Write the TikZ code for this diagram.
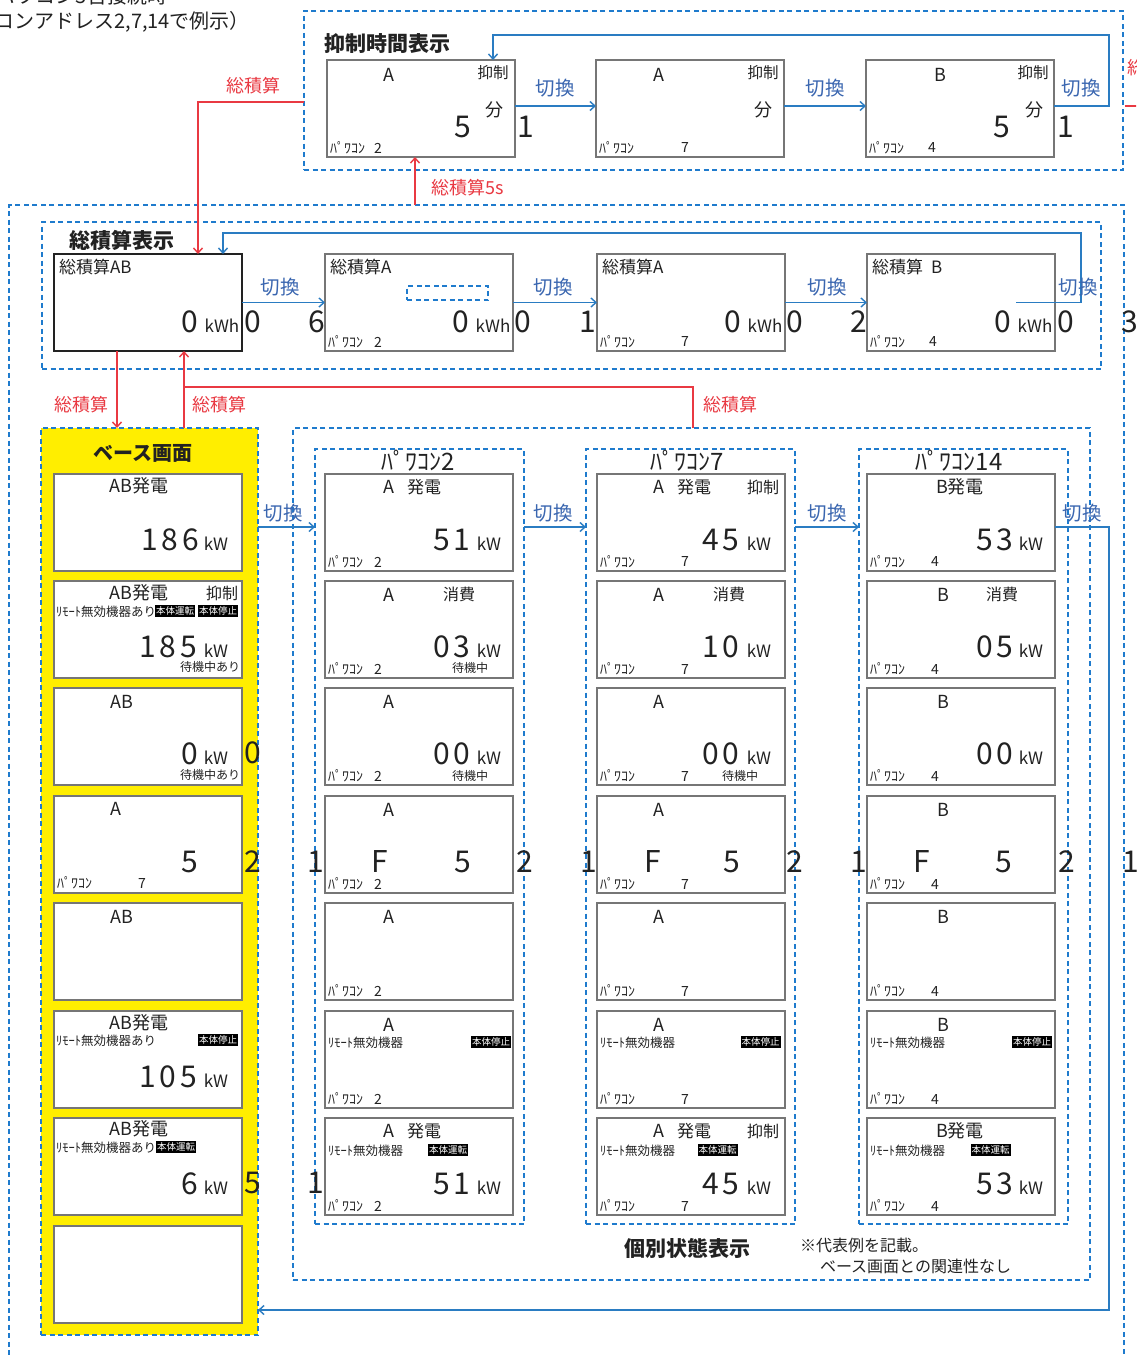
\documentclass[tikz,border=0pt]{standalone}
\usepackage{fontspec}
\setmainfont{Noto Sans CJK JP}
\usetikzlibrary{arrows.meta}
\definecolor{gb}{RGB}{31,123,205}
\definecolor{ab}{RGB}{42,124,194}
\definecolor{swc}{RGB}{58,102,176}
\definecolor{rd}{RGB}{233,57,66}
\definecolor{yl}{RGB}{255,238,0}
\definecolor{bx}{RGB}{118,118,118}
\definecolor{ink}{RGB}{34,34,34}
\newcount\nodecnt
\tikzset{
 an/.code={\global\advance\nodecnt by 1\relax\pgfkeysalso{name=tx\the\nodecnt}},
 fs/.style={font=\fontsize{#1}{#1}\selectfont},
 tx/.style={an, inner sep=0pt, outer sep=0pt, text=ink, fs=#1},
 tx/.default=17,
 big/.style={tx=30},
 kw/.style={tx=17},
 sm/.style={tx=14},
 rem/.style={tx=12.5},
 blk/.style={an, fill=black, text=white, fs=9.5, inner xsep=1pt, inner ysep=1.5pt, outer sep=0pt},
 swl/.style={an, text=swc, fs=19.5, inner sep=0pt},
 rl/.style={an, text=rd, fs=18, inner sep=0pt},
 ttl/.style={an, text=ink, font=\fontsize{21}{21}\selectfont\bfseries, inner sep=0pt},
 scr/.style={draw=bx, line width=1.6pt, fill=white, minimum width=188pt, minimum height=97pt, anchor=north west, inner sep=0pt, outer sep=0pt},
 grp/.style={draw=gb, line width=1.4pt, dash pattern=on 5pt off 3.5pt, anchor=north west, inner sep=0pt, outer sep=0pt},
 barr/.style={draw=ab, line width=1.4pt, -{Straight Barb[length=5pt,width=9pt]}},
 rarr/.style={draw=rd, line width=1.4pt, -{Straight Barb[length=5pt,width=9pt]}},
 rline/.style={draw=rd, line width=1.4pt}
}
\newcommand\bxc[4]{\node[scr] (#1) at (#2,#3) {};\begin{scope}[shift={(#2,#3)}]#4\end{scope}}
\newcommand\pw[2]{\node[sm,anchor=west] at (3,88) {ﾊﾟﾜｺﾝ};\node[sm] at (#1,88) {#2};}
\newcommand\bign[2]{\node[big,anchor=base] at (#1,76) {#2};}
\newcommand\kwl[1]{\node[kw,anchor=base] at (#1,76) {kW};}
\newcommand\dg[2]{#1\hspace{3.5pt}#2}
\begin{document}
\begin{tikzpicture}[x=1pt,y=-1pt]
\useasboundingbox (0,0) rectangle (1136,1357);
\fill[white] (0,0) rectangle (1136,1357);
\clip (0,0) rectangle (1136,1357);

% header
\node[tx=20,anchor=base east] at (167,4) {（パワコン3台接続時};
\node[tx=20,anchor=east] at (250,22) {（パワコンアドレス2,7,14で例示）};

% groups
\node[grp, minimum width=1115pt, minimum height=1300pt] (outer) at (9,205) {};
\node[grp, minimum width=819pt, minimum height=159pt] (topg) at (304,11) {};
\node[grp, minimum width=1059pt, minimum height=147pt] (totg) at (42,222) {};
\node[grp, fill=yl, minimum width=217pt, minimum height=907pt] (basey) at (41,428) {};
\node[grp, minimum width=797pt, minimum height=852pt] (indg) at (293,428) {};
\node[grp, minimum width=209pt, minimum height=775pt] (g2) at (315,449) {};
\node[grp, minimum width=209pt, minimum height=775pt] (g7) at (586,449) {};
\node[grp, minimum width=209pt, minimum height=775pt] (g14) at (859,449) {};

% titles
\node[ttl] at (387,44) {抑制時間表示};
\node[ttl] at (122,240) {総積算表示};
\node[ttl, font=\fontsize{20}{20}\selectfont\bfseries] at (143,453) {ベース画面};
\node[tx=24] at (418,461) {ﾊﾟﾜｺﾝ2};
\node[tx=24] at (687,461) {ﾊﾟﾜｺﾝ7};
\node[tx=24] at (959,461) {ﾊﾟﾜｺﾝ14};
\node[ttl] at (687,1248) {個別状態表示};
\node[tx=16,anchor=west] at (800,1245) {※代表例を記載。};
\node[tx=16,anchor=west] at (820,1266) {ベース画面との関連性なし};

% top row (抑制時間表示)
\bxc{t1}{327}{60}{\node[tx=18] at (62,15) {A};\node[tx=15.5] at (166,13) {抑制};\node[tx=18] at (167,50) {分};\node[big,anchor=base] at (136,77) {5};\pw{51}{2}}
\bxc{t2}{596}{60}{\node[tx=18] at (63,15) {A};\node[tx=15.5] at (167,13) {抑制};\node[tx=18] at (167,50) {分};\pw{89}{7}}
\bxc{t3}{866}{60}{\node[tx=18] at (74,15) {B};\node[tx=15.5] at (167,13) {抑制};\node[tx=18] at (168,50) {分};\node[big,anchor=base] at (136,77) {5};\pw{66}{4}}
\node[big,anchor=base] at (526,137) {1};
\node[big,anchor=base] at (1066,137) {1};

% totals row
\node[scr, draw=ink, line width=2.6pt] (tAB) at (54,254) {};
\node[tx,anchor=west] at (59,267) {総積算AB};
\node[big,anchor=base] at (190,332) {0};
\node[kw,anchor=base] at (222,332) {kWh};
\bxc{tA2}{325}{254}{\node[tx,anchor=west] at (5,13) {総積算A};\node[kw,anchor=base] at (168,78) {kWh};\node[big,anchor=base] at (136,78) {0};\pw{53}{2}}
\node[grp, line width=1.2pt, minimum width=81pt, minimum height=14pt] (dsh) at (407,286) {};
\bxc{tA7}{597}{254}{\node[tx,anchor=west] at (5,13) {総積算A};\node[kw,anchor=base] at (168,78) {kWh};\node[big,anchor=base] at (136,78) {0};\pw{88}{7}}
\bxc{tB}{867}{254}{\node[tx,anchor=west] at (5,13) {総積算\hspace{8pt}B};\node[kw,anchor=base] at (168,78) {kWh};\node[big,anchor=base] at (136,78) {0};\pw{66}{4}}
\node[big,anchor=base] at (253,332) {0};
\node[big,anchor=base] at (317,332) {6};
\node[big,anchor=base] at (523,332) {0};
\node[big,anchor=base] at (588,332) {1};
\node[big,anchor=base] at (795,332) {0};
\node[big,anchor=base] at (859,332) {2};
\node[big,anchor=base] at (1066,332) {0};
\node[big,anchor=base] at (1130,332) {3};

% base column
\bxc{b1}{54}{474}{\node[tx=18] at (85,12) {AB発電};\bign{116}{1\hspace{4pt}8\hspace{4pt}6}\kwl{162}}
\bxc{b2}{54}{581}{\node[tx=18] at (85,12) {AB発電};\node[tx=16] at (168,12) {抑制};\node[rem,anchor=west] at (2,31) {ﾘﾓｰﾄ無効機器あり};\node[blk] at (121,30) {本体運転};\node[blk] at (164,30) {本体停止};\bign{114}{1\hspace{4pt}8\hspace{4pt}5}\kwl{162}\node[tx=12] at (156,86) {待機中あり};}
\bxc{b3}{54}{688}{\node[tx=18] at (68,14) {AB};\bign{136}{0}\kwl{162}\node[tx=12] at (156,87) {待機中あり};}
\bxc{b4}{54}{796}{\node[tx=18] at (62,13) {A};\bign{136}{5}\node[sm,anchor=west] at (3,87) {ﾊﾟﾜｺﾝ};\node[sm] at (88,87) {7};}
\bxc{b5}{54}{903}{\node[tx=18] at (68,14) {AB};}
\bxc{b6}{54}{1011}{\node[tx=18] at (85,12) {AB発電};\node[rem,anchor=west] at (2,30) {ﾘﾓｰﾄ無効機器あり};\node[blk] at (164,29) {本体停止};\bign{114}{1\hspace{4pt}0\hspace{4pt}5}\kwl{162}}
\bxc{b7}{54}{1118}{\node[tx=18] at (85,11) {AB発電};\node[rem,anchor=west] at (2,30) {ﾘﾓｰﾄ無効機器あり};\node[blk] at (122,29) {本体運転};\bign{136}{6}\kwl{162}}
\bxc{b8}{54}{1226}{}

% pawacon 2
\bxc{p2a}{325}{474}{\node[tx=18] at (64,13) {A};\node[tx] at (99,13) {発電};\bign{127}{\dg51}\kwl{164}\pw{53}{2}}
\bxc{p2b}{325}{581}{\node[tx=18] at (64,14) {A};\node[tx=16] at (134,13) {消費};\bign{127}{\dg03}\kwl{164}\node[tx=12] at (145,87) {待機中};\pw{53}{2}}
\bxc{p2c}{325}{688}{\node[tx=18] at (64,14) {A};\bign{127}{\dg00}\kwl{164}\node[tx=12] at (145,88) {待機中};\pw{53}{2}}
\bxc{p2d}{325}{796}{\node[tx=18] at (64,14) {A};\bign{55}{F}\bign{138}{5}\pw{53}{2}}
\bxc{p2e}{325}{903}{\node[tx=18] at (64,14) {A};\pw{53}{2}}
\bxc{p2f}{325}{1011}{\node[tx=18] at (64,14) {A};\node[rem,anchor=west] at (3,32) {ﾘﾓｰﾄ無効機器};\node[blk] at (166,31) {本体停止};\pw{53}{2}}
\bxc{p2g}{325}{1118}{\node[tx=18] at (64,13) {A};\node[tx] at (99,13) {発電};\node[rem,anchor=west] at (3,33) {ﾘﾓｰﾄ無効機器};\node[blk] at (123,32) {本体運転};\bign{127}{\dg51}\kwl{164}\pw{53}{2}}

% pawacon 7
\bxc{p7a}{597}{474}{\node[tx=18] at (62,13) {A};\node[tx] at (97,13) {発電};\node[tx=16] at (166,13) {抑制};\bign{124}{\dg45}\kwl{162}\pw{88}{7}}
\bxc{p7b}{597}{581}{\node[tx=18] at (62,14) {A};\node[tx=16] at (132,13) {消費};\bign{124}{\dg10}\kwl{162}\pw{88}{7}}
\bxc{p7c}{597}{688}{\node[tx=18] at (62,14) {A};\bign{124}{\dg00}\kwl{162}\node[tx=12] at (143,88) {待機中};\pw{88}{7}}
\bxc{p7d}{597}{796}{\node[tx=18] at (62,14) {A};\bign{56}{F}\bign{135}{5}\pw{88}{7}}
\bxc{p7e}{597}{903}{\node[tx=18] at (62,14) {A};\pw{88}{7}}
\bxc{p7f}{597}{1011}{\node[tx=18] at (62,14) {A};\node[rem,anchor=west] at (3,32) {ﾘﾓｰﾄ無効機器};\node[blk] at (163.5,31) {本体停止};\pw{88}{7}}
\bxc{p7g}{597}{1118}{\node[tx=18] at (62,13) {A};\node[tx] at (97,13) {発電};\node[tx=16] at (166,13) {抑制};\node[rem,anchor=west] at (3,33) {ﾘﾓｰﾄ無効機器};\node[blk] at (120.5,32) {本体運転};\bign{124}{\dg45}\kwl{162}\pw{88}{7}}

% pawacon 14
\bxc{p14a}{867}{474}{\node[tx=18] at (93,13) {B発電};\bign{128}{\dg53}\kwl{164}\pw{68}{4}}
\bxc{p14b}{867}{581}{\node[tx=18] at (76,14) {B};\node[tx=16] at (135,13) {消費};\bign{128}{\dg05}\kwl{164}\pw{68}{4}}
\bxc{p14c}{867}{688}{\node[tx=18] at (76,14) {B};\bign{128}{\dg00}\kwl{164}\pw{68}{4}}
\bxc{p14d}{867}{796}{\node[tx=18] at (76,14) {B};\bign{55}{F}\bign{137}{5}\pw{68}{4}}
\bxc{p14e}{867}{903}{\node[tx=18] at (76,14) {B};\pw{68}{4}}
\bxc{p14f}{867}{1011}{\node[tx=18] at (76,14) {B};\node[rem,anchor=west] at (3,32) {ﾘﾓｰﾄ無効機器};\node[blk] at (165,31) {本体停止};\pw{68}{4}}
\bxc{p14g}{867}{1118}{\node[tx=18] at (93,13) {B発電};\node[rem,anchor=west] at (3,33) {ﾘﾓｰﾄ無効機器};\node[blk] at (123.5,32) {本体運転};\bign{128}{\dg53}\kwl{164}\pw{68}{4}}

% outside digits (individual)
\node[big,anchor=base] at (253,763) {0};
\node[big,anchor=base] at (253,872) {2};
\node[big,anchor=base] at (316,872) {1};
\node[big,anchor=base] at (525,872) {2};
\node[big,anchor=base] at (589,872) {1};
\node[big,anchor=base] at (795,872) {2};
\node[big,anchor=base] at (859,872) {1};
\node[big,anchor=base] at (1067,872) {2};
\node[big,anchor=base] at (1131,872) {1};
\node[big,anchor=base] at (253,1193) {5};
\node[big,anchor=base] at (316,1193) {1};

% blue connectors: top
\coordinate (ty) at (0,106);
\draw[barr] (t1.east |- ty) -- (t2.west |- ty);
\draw[barr] (t2.east |- ty) -- (t3.west |- ty);
\coordinate (tl1) at (1109,35); \coordinate (tl2) at (493,35);
\draw[barr] (t3.east |- ty) -| (tl1) -- (tl2) -- (t1.north -| tl2);
\node[swl] at (555,88) {切換};
\node[swl] at (825,88) {切換};
\node[swl] at (1081,88) {切換};

% blue connectors: totals
\draw[barr] (tAB.east) -- (tA2.west);
\draw[barr] (tA2.east) -- (tA7.west);
\draw[barr] (tA7.east) -- (tB.west);
\coordinate (lB) at (1016,302.5); \coordinate (tl3) at (1081,233); \coordinate (tl4) at (223,233);
\draw[barr] (lB) -| (tl3) -- (tl4) -- (tAB.north -| tl4);
\node[swl] at (280,287) {切換};
\node[swl] at (553,287) {切換};
\node[swl] at (827,287) {切換};
\node[swl] at (1078,287) {切換};

% blue connectors: individual
\coordinate (iy) at (0,527);
\draw[barr] (basey.east |- iy) -- (g2.west |- iy);
\draw[barr] (g2.east |- iy) -- (g7.west |- iy);
\draw[barr] (g7.east |- iy) -- (g14.west |- iy);
\coordinate (il) at (1109,1310);
\draw[barr] (p14a.east |- iy) -| (il) -- (basey.east |- il);
\node[swl] at (283,513) {切換};
\node[swl] at (553,513) {切換};
\node[swl] at (827,513) {切換};
\node[swl] at (1082,513) {切換};

% red connectors
\coordinate (rc1) at (198,102);
\draw[rarr] (topg.west |- rc1) -- (rc1) -- (tAB.north -| rc1);
\coordinate (rc2) at (415,205);
\draw[rarr] (outer.north -| rc2) -- (t1.south -| rc2);
\coordinate (rc3) at (117,0);
\draw[rarr] (tAB.south -| rc3) -- (basey.north -| rc3);
\coordinate (rc4) at (184,387);
\draw[rarr] (basey.north -| rc4) -- (tAB.south -| rc4);
\coordinate (rc5) at (693,387);
\draw[rline] (indg.north -| rc5) -- (rc5) -- (rc4);
\coordinate (rr1) at (1125,106); \coordinate (rr2) at (1140,106);
\draw[rline] (rr1) -- (rr2);
\node[rl] at (253,86) {総積算};
\node[rl] at (468,188) {総積算5s};
\node[rl] at (81,405) {総積算};
\node[rl] at (219,405) {総積算};
\node[rl] at (730,405) {総積算};
\node[rl] at (1154,68) {総積算};
\end{tikzpicture}
\end{document}
